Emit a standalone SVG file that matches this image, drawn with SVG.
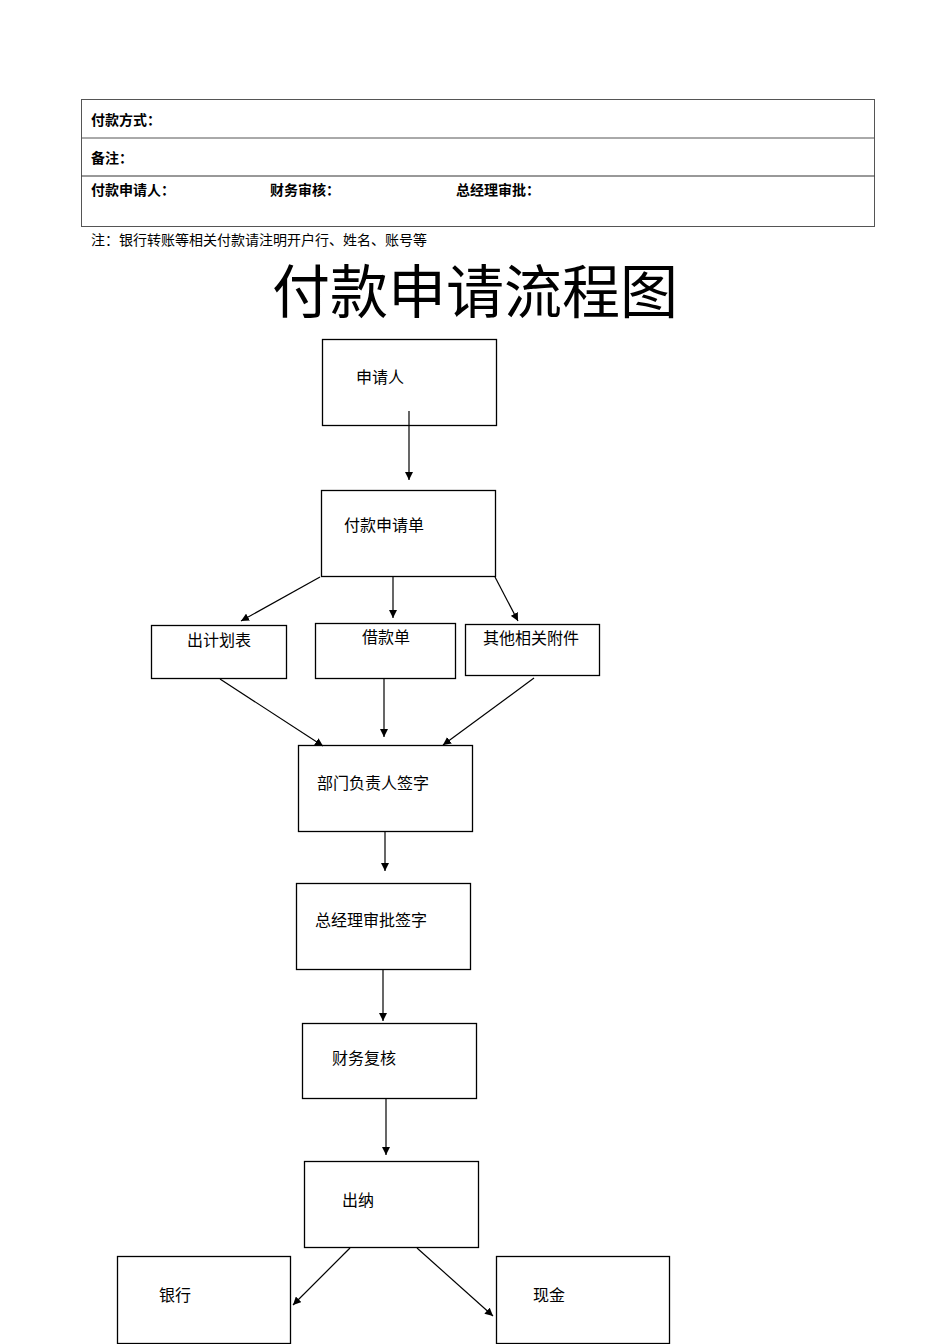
<svg xmlns="http://www.w3.org/2000/svg" width="950" height="1344" viewBox="0 0 950 1344">
<style>
text{font-family:"Liberation Serif","Noto Sans CJK SC",serif;fill:#000}
.b{font-family:"Liberation Sans","Noto Sans CJK SC",sans-serif;font-weight:bold;font-size:14px}
.n{font-size:16px}
.box{fill:#fff;stroke:#000;stroke-width:1.3}
.c line{stroke:#000;stroke-width:1.2;marker-end:url(#a)}
</style>
<defs><marker id="a" viewBox="0 0 10 10" refX="10" refY="5" markerWidth="8" markerHeight="8" markerUnits="userSpaceOnUse" orient="auto"><path d="M0,0L10,5L0,10z" fill="#000"/></marker></defs>
<rect width="950" height="1344" fill="#fff"/>
<g id="table">
<rect x="81.5" y="99.5" width="793" height="127" fill="none" stroke="#555" stroke-width="1"/>
<line x1="81.5" y1="138" x2="874.5" y2="138" stroke="#555"/>
<line x1="81.5" y1="176" x2="874.5" y2="176" stroke="#333"/>
<text class="b" x="91" y="125">付款方式：</text>
<text class="b" x="91" y="163">备注：</text>
<text class="b" x="91" y="195">付款申请人：</text>
<text class="b" x="270" y="195">财务审核：</text>
<text class="b" x="456" y="195">总经理审批：</text>
</g>
<text x="91" y="245" font-size="14" fill="#333">注：银行转账等相关付款请注明开户行、姓名、账号等</text>
<text x="475" y="313" text-anchor="middle" font-size="58" style="font-family:'Noto Sans CJK SC',sans-serif">付款申请流程图</text>
<g id="n1"><rect class="box" x="322.5" y="339.5" width="174" height="86"/><text class="n" x="356" y="383">申请人</text></g>
<g id="n2"><rect class="box" x="321.5" y="490.5" width="174" height="86"/><text class="n" x="344" y="531">付款申请单</text></g>
<g id="n3"><rect class="box" x="151.5" y="625.5" width="135" height="53"/><text class="n" x="187" y="646" font-size="15">出计划表</text></g>
<g id="n4"><rect class="box" x="315.5" y="623.5" width="140" height="55"/><text class="n" x="362" y="643" font-size="15">借款单</text></g>
<g id="n5"><rect class="box" x="465.5" y="624.5" width="134" height="51"/><text class="n" x="483" y="644" font-size="15">其他相关附件</text></g>
<g id="n6"><rect class="box" x="298.5" y="745.5" width="174" height="86"/><text class="n" x="317" y="789">部门负责人签字</text></g>
<g id="n7"><rect class="box" x="296.5" y="883.5" width="174" height="86"/><text class="n" x="315" y="926">总经理审批签字</text></g>
<g id="n8"><rect class="box" x="302.5" y="1023.5" width="174" height="75"/><text class="n" x="332" y="1064">财务复核</text></g>
<g id="n9"><rect class="box" x="304.5" y="1161.5" width="174" height="86"/><text class="n" x="342" y="1206">出纳</text></g>
<g id="n10"><rect class="box" x="117.5" y="1256.5" width="173" height="87"/><text class="n" x="159" y="1301">银行</text></g>
<g id="n11"><rect class="box" x="496.5" y="1256.5" width="173" height="87"/><text class="n" x="533" y="1301">现金</text></g>
<g class="c">
<line x1="409" y1="411" x2="409" y2="480"/>
<line x1="320" y1="577" x2="241" y2="621"/>
<line x1="393" y1="577" x2="393" y2="618"/>
<line x1="495" y1="577" x2="518" y2="621"/>
<line x1="220" y1="679" x2="323" y2="746"/>
<line x1="384" y1="679" x2="384" y2="737"/>
<line x1="534" y1="678" x2="443" y2="745"/>
<line x1="385" y1="832" x2="385" y2="871"/>
<line x1="383" y1="970" x2="383" y2="1021"/>
<line x1="386" y1="1099" x2="386" y2="1155"/>
<line x1="350" y1="1248" x2="293" y2="1305"/>
<line x1="417" y1="1248" x2="493" y2="1316"/>
</g>
</svg>
